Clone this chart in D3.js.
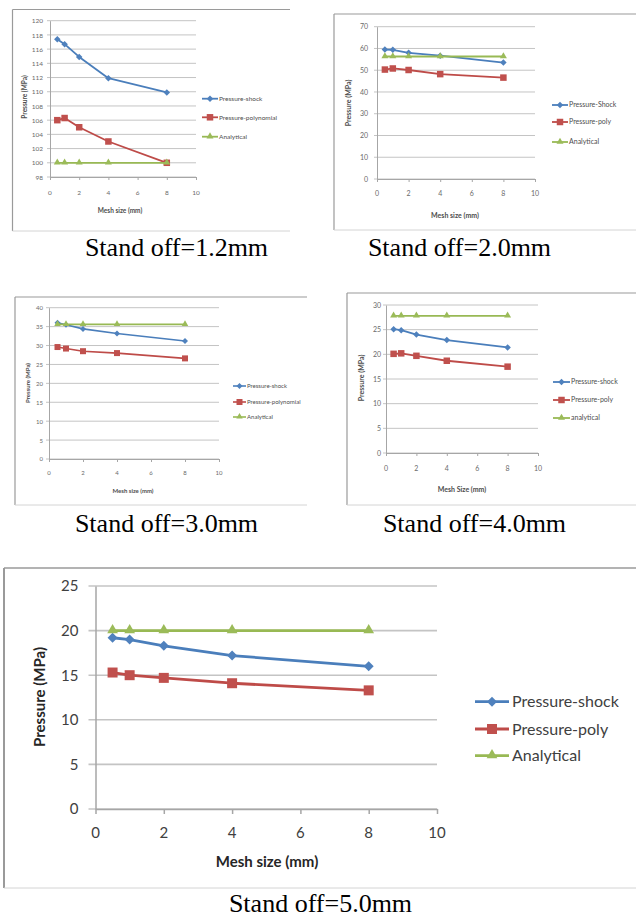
<!DOCTYPE html>
<html>
<head>
<meta charset="utf-8">
<script src="https://cdn.jsdelivr.net/npm/d3@7"></script>
<style>
  body { margin: 0; background: #fff; }
  svg { display: block; }
</style>
</head>
<body>
<svg id="svg0" width="636" height="918"></svg>
<script>
// mesh sizes (mm), same for every stand off
var meshSize = [0.5, 1, 2, 4, 8];
var xTicks = [0, 2, 4, 6, 8, 10];

// stand off 1.2mm
var shock12 = [117.4, 116.7, 114.9, 111.9, 109.9];
var poly12 = [106.0, 106.3, 105.0, 103.0, 100.0];
var analytical12 = [100, 100, 100, 100, 100];
var yTicks12 = [98, 100, 102, 104, 106, 108, 110, 112, 114, 116, 118, 120];
var legend12 = ['Pressure-shock', 'Pressure-polynomial', 'Analytical'];

// stand off 2.0mm
var shock20 = [59.5, 59.4, 58.0, 56.7, 53.5];
var poly20 = [50.3, 50.8, 50.1, 48.2, 46.6];
var analytical20 = [56.3, 56.3, 56.3, 56.3, 56.3];
var yTicks20 = [0, 10, 20, 30, 40, 50, 60, 70];
var legend20 = ['Pressure-Shock', 'Pressure-poly', 'Analytical'];

// stand off 3.0mm
var shock30 = [36.0, 35.5, 34.4, 33.2, 31.2];
var poly30 = [29.6, 29.2, 28.5, 28.0, 26.6];
var analytical30 = [35.6, 35.6, 35.6, 35.6, 35.6];
var yTicks30 = [0, 5, 10, 15, 20, 25, 30, 35, 40];
var legend30 = ['Pressure-shock', 'Pressure-polynomial', 'Analytical'];

// stand off 4.0mm
var shock40 = [25.1, 24.9, 24.0, 22.9, 21.4];
var poly40 = [20.1, 20.2, 19.7, 18.7, 17.5];
var analytical40 = [27.8, 27.8, 27.8, 27.8, 27.8];
var yTicks40 = [0, 5, 10, 15, 20, 25, 30];
var legend40 = ['Pressure-shock', 'Pressure-poly', 'analytical'];

// stand off 5.0mm
var shock50 = [19.2, 19.0, 18.3, 17.2, 16.0];
var poly50 = [15.3, 15.0, 14.7, 14.1, 13.3];
var analytical50 = [20, 20, 20, 20, 20];
var yTicks50 = [0, 5, 10, 15, 20, 25];
var legend50 = ['Pressure-shock', 'Pressure-poly', 'Analytical'];

var captions = ['Stand off=1.2mm', 'Stand off=2.0mm', 'Stand off=3.0mm', 'Stand off=4.0mm', 'Stand off=5.0mm'];
var xTitles = ['Mesh size (mm)', 'Mesh size (mm)', 'Mesh size (mm)', 'Mesh Size (mm)', 'Mesh size (mm)'];

var colors = {shock: '#4a7ebb', poly: '#be4b48', anal: '#98b954'};
var markerColors = {shock: '#4f81bd', poly: '#c0504d', anal: '#9bbb59'};
var font = 'Lato, "Open Sans", sans-serif';

var svg0 = d3.select('#svg0');

// layout of each picture: frame, plot box, legend and titles
var panels = [
  {series: [shock12, poly12, analytical12], yTicks: yTicks12, legend: legend12,
   frame: [12.5, 9.5, 290, 231], plot: [50, 196, 20.7, 177],
   legX: 202, legY: [98.7, 117.3, 136.7], legLine: 16, yTitleX: 25, yTitleY: 97,
   xTitleX: 120, xTitleY: 211, xLabY: 193, yLabGap: 7, capX: 176.5, capY: 256,
   fs: 6.5, lw: 1.8, mk: 6.5},
  {series: [shock20, poly20, analytical20], yTicks: yTicks20, legend: legend20,
   frame: [334, 14, 640, 230], plot: [377, 535, 26.7, 179],
   legX: 552, legY: [105, 122, 142], legLine: 16, yTitleX: 349, yTitleY: 103,
   xTitleX: 455, xTitleY: 216, xLabY: 194, yLabGap: 9, capX: 459.5, capY: 256,
   fs: 7, lw: 1.8, mk: 6.5},
  {series: [shock30, poly30, analytical30], yTicks: yTicks30, legend: legend30,
   frame: [15, 297, 307, 505], plot: [49, 219, 307.7, 459],
   legX: 233, legY: [386, 402, 417], legLine: 13, yTitleX: 28, yTitleY: 383,
   xTitleX: 133, xTitleY: 491, xLabY: 473, yLabGap: 6, capX: 166.5, capY: 532,
   fs: 6, lw: 1.6, mk: 6},
  {series: [shock40, poly40, analytical40], yTicks: yTicks40, legend: legend40,
   frame: [347, 293, 640, 505], plot: [386, 538, 305, 453],
   legX: 553, legY: [382, 400, 418], legLine: 17, yTitleX: 362, yTitleY: 378,
   xTitleX: 462, xTitleY: 490, xLabY: 469, yLabGap: 5, capX: 474.5, capY: 532,
   fs: 7, lw: 1.8, mk: 6.5},
  {series: [shock50, poly50, analytical50], yTicks: yTicks50, legend: legend50,
   frame: [4, 568, 640, 888], plot: [95.5, 437, 586, 809],
   legX: 475, legY: [701.7, 729, 755.7], legLine: 34, yTitleX: 40, yTitleY: 697,
   xTitleX: 267, xTitleY: 862, xLabY: 833, yLabGap: 17, capX: 320.5, capY: 912,
   fs: 15, lw: 2.8, mk: 10}
];

var keys = ['shock', 'poly', 'anal'];

function marker(g, key, cx, cy, s) {
  if (key == 'shock') {
    // excel diamond = square turned 45 degrees
    g.append('path').attr('d', d3.symbol().type(d3.symbolSquare).size(s*s*0.5)())
      .attr('transform', 'translate(' + cx + ',' + cy + ') rotate(45)')
      .attr('fill', markerColors[key]);
  } else if (key == 'poly') {
    g.append('path').attr('d', d3.symbol().type(d3.symbolSquare).size(s*s)())
      .attr('transform', 'translate(' + cx + ',' + cy + ')')
      .attr('fill', markerColors[key]);
  } else {
    g.append('path').attr('d', d3.symbol().type(d3.symbolTriangle).size(s*s*0.5)())
      .attr('transform', 'translate(' + cx + ',' + (cy - s*0.05) + ')')
      .attr('fill', markerColors[key]);
  }
}

panels.forEach(function(p, pi) {
  var g = svg0.append('g');
  var big = pi == 4;
  var f = p.frame;

  // frame (left, top, bottom edges of the pasted picture)
  g.append('line').attr('x1', f[0]).attr('x2', f[2]).attr('y1', f[1]).attr('y2', f[1])
    .attr('stroke', '#9a9a9a').attr('stroke-width', big ? 1.5 : 1.2);
  g.append('line').attr('x1', f[0]).attr('x2', f[0]).attr('y1', f[1]).attr('y2', f[3])
    .attr('stroke', '#9a9a9a').attr('stroke-width', big ? 2 : 1.2);
  g.append('line').attr('x1', f[0]).attr('x2', f[2]).attr('y1', f[3]).attr('y2', f[3])
    .attr('stroke', '#d4d4d4').attr('stroke-width', 1);

  var x = d3.scaleLinear().domain([0, 10]).range([p.plot[0], p.plot[1]]);
  var yDom = d3.extent(p.yTicks);
  var y = d3.scaleLinear().domain(yDom).range([p.plot[3], p.plot[2]]);
  var tickLen = big ? 7 : 3;

  // gridlines
  g.selectAll('.grid').data(p.yTicks).enter().append('line')
    .attr('x1', x(0) - tickLen).attr('x2', x(10))
    .attr('y1', d => y(d)).attr('y2', d => y(d))
    .attr('stroke', '#c4c4c4').attr('stroke-width', big ? 1.6 : 1);

  // y axis
  var yAxis = d3.axisLeft(y).tickValues(p.yTicks).tickSize(0).tickPadding(p.yLabGap);
  var ya = g.append('g').attr('transform', 'translate(' + x(0) + ',0)').call(yAxis);
  ya.select('.domain').attr('stroke', '#a6a6a6').attr('stroke-width', big ? 1.5 : 1);
  ya.selectAll('text').attr('font-family', font).attr('font-size', p.fs)
    .attr('fill', big ? '#404040' : '#6a6a6a');

  // x axis
  var xAxis = d3.axisBottom(x).tickValues(xTicks).tickSizeInner(big ? 5 : 3).tickSizeOuter(0).tickPadding(0);
  var xa = g.append('g').attr('transform', 'translate(0,' + y(yDom[0]) + ')').call(xAxis);
  xa.select('.domain').attr('stroke', '#a6a6a6').attr('stroke-width', big ? 1.5 : 1);
  xa.selectAll('line').attr('stroke', '#a6a6a6').attr('stroke-width', big ? 1.5 : 1);
  xa.selectAll('text').remove();
  g.selectAll('.xlab').data(xTicks).enter().append('text')
    .attr('x', d => x(d)).attr('y', p.xLabY).attr('dy', '0.35em')
    .attr('text-anchor', 'middle').attr('font-family', font).attr('font-size', p.fs)
    .attr('fill', big ? '#404040' : '#6a6a6a').text(d => d);

  // series
  var line = d3.line().x((d, i) => x(meshSize[i])).y(d => y(d));
  p.series.forEach(function(s, si) {
    var k = keys[si];
    g.append('path').datum(s).attr('d', line).attr('fill', 'none')
      .attr('stroke', colors[k]).attr('stroke-width', p.lw).attr('stroke-linejoin', 'round');
    s.forEach(function(v, i) { marker(g, k, x(meshSize[i]), y(v), p.mk); });
  });

  // legend
  p.legend.forEach(function(name, li) {
    var k = keys[li], ly = p.legY[li];
    g.append('line').attr('x1', p.legX).attr('x2', p.legX + p.legLine).attr('y1', ly).attr('y2', ly)
      .attr('stroke', colors[k]).attr('stroke-width', p.lw);
    marker(g, k, p.legX + p.legLine/2, ly, p.mk);
    g.append('text').attr('x', p.legX + p.legLine + (big ? 3 : 1)).attr('y', ly).attr('dy', '0.35em')
      .attr('font-family', font).attr('font-size', big ? 16 : p.fs)
      .attr('fill', big ? '#404040' : '#4d4d4d').text(name);
  });

  // axis titles
  g.append('text').attr('x', p.xTitleX).attr('y', p.xTitleY).attr('dy', '0.35em')
    .attr('text-anchor', 'middle').attr('font-family', font).attr('font-weight', 'bold')
    .attr('font-size', big ? 15 : p.fs).attr('fill', big ? '#262626' : '#4d4d4d').text(xTitles[pi]);
  g.append('text').attr('transform', 'translate(' + p.yTitleX + ',' + p.yTitleY + ') rotate(-90)')
    .attr('dy', '0.35em').attr('text-anchor', 'middle').attr('font-family', font).attr('font-weight', 'bold')
    .attr('font-size', big ? 15 : p.fs).attr('fill', big ? '#262626' : '#4d4d4d').text('Pressure (MPa)');

  // caption under the picture
  g.append('text').attr('x', p.capX).attr('y', p.capY).attr('text-anchor', 'middle')
    .attr('font-family', '"Liberation Serif", "DejaVu Serif", serif').attr('font-size', 26)
    .attr('fill', '#000').text(captions[pi]);
});
</script>
</body>
</html>
